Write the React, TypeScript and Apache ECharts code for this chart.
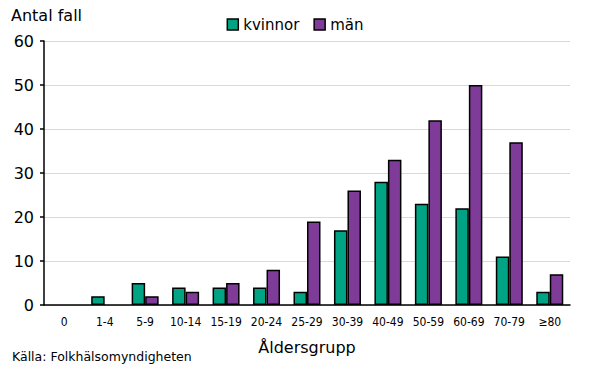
import React, { useEffect, useRef } from "react";
import * as echarts from "echarts";

const categories = ["0", "1-4", "5-9", "10-14", "15-19", "20-24", "25-29", "30-39", "40-49", "50-59", "60-69", "70-79", "≥80"];
const kvinnor = [0, 2, 5, 4, 4, 4, 3, 17, 28, 23, 22, 11, 3];
const man = [0, 0, 2, 3, 5, 8, 19, 26, 33, 42, 50, 37, 7];

const FONT = "DejaVu Sans";
const COND = "'DejaVu Sans Condensed', 'Liberation Sans Narrow', 'DejaVu Sans'";

const hideZero = (arr: number[]) => arr.map((v) => (v === 0 ? null : v));

export default function App() {
  const ref = useRef<HTMLDivElement>(null);
  useEffect(() => {
    const chart = echarts.init(ref.current!, undefined, { renderer: "svg" });
    chart.setOption({
      animation: false,
      textStyle: { fontFamily: FONT },
      legend: {
        top: 12,
        left: "center",
        itemWidth: 11,
        itemHeight: 11,
        itemGap: 14,
        textStyle: { fontFamily: FONT, fontSize: 15, color: "#000" },
        data: [
          { name: "kvinnor", icon: "rect", itemStyle: { borderColor: "#000", borderWidth: 1.5 } },
          { name: "män", icon: "rect", itemStyle: { borderColor: "#000", borderWidth: 1.5 } },
        ],
      },
      grid: { left: 44, right: 20, top: 41, bottom: 63 },
      xAxis: {
        type: "category",
        data: categories,
        axisLine: { lineStyle: { color: "#000", width: 1.5 } },
        axisTick: { show: false },
        axisLabel: { fontFamily: COND, fontSize: 12, color: "#000", margin: 11, interval: 0 },
        name: "Åldersgrupp",
        nameLocation: "middle",
        nameGap: 34,
        nameTextStyle: { fontFamily: FONT, fontSize: 16, color: "#000" },
      },
      yAxis: {
        type: "value",
        min: 0,
        max: 60,
        interval: 10,
        axisLine: { show: true, lineStyle: { color: "#000", width: 1.5 } },
        axisTick: { show: true, length: 4, lineStyle: { color: "#000", width: 1.5 } },
        axisLabel: { fontFamily: FONT, fontSize: 16, color: "#000", margin: 10 },
        splitLine: { lineStyle: { color: "#d9d9d9", width: 1 } },
      },
      graphic: [
        { type: "text", left: 11, top: 7, style: { text: "Antal fall", font: `16px '${FONT}'`, fill: "#000" } },
        { type: "text", left: 12, top: 350, style: { text: "Källa: Folkhälsomyndigheten", font: `12.5px '${FONT}'`, fill: "#000" } },
      ],
      series: [
        {
          name: "kvinnor",
          type: "bar",
          data: hideZero(kvinnor),
          barWidth: 13.5,
          barGap: "0%",
          itemStyle: { color: "#00a383", borderColor: "#000", borderWidth: 1.5 },
        },
        {
          name: "män",
          type: "bar",
          data: hideZero(man),
          barWidth: 13.5,
          itemStyle: { color: "#7f3b98", borderColor: "#000", borderWidth: 1.5 },
        },
      ],
    });
    return () => chart.dispose();
  }, []);
  return <div ref={ref} style={{ width: 590, height: 368, position: "absolute", left: 0, top: 0 }} />;
}
